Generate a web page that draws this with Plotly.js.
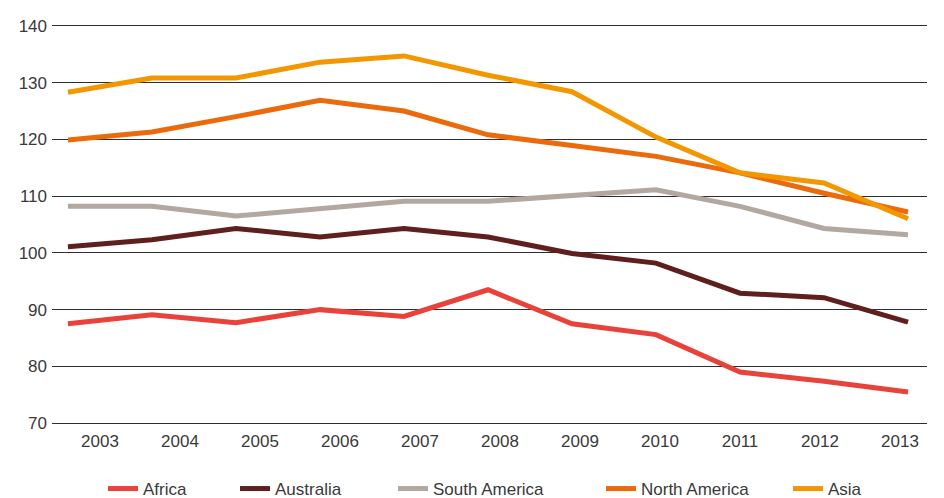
<!DOCTYPE html>
<html>
<head>
<meta charset="utf-8">
<script src="https://cdn.plot.ly/plotly-3.0.1.min.js"></script>
<style>html,body{margin:0;padding:0;background:#fff;}#chart{width:944px;height:498px;}</style>
</head>
<body>
<div id="chart"></div>
<script>
const years = [2003, 2004, 2005, 2006, 2007, 2008, 2009, 2010, 2011, 2012, 2013];
const yearLabels = ['2003', '2004', '2005', '2006', '2007', '2008', '2009', '2010', '2011', '2012', '2013'];
const africa = [87.5, 89.1, 87.7, 90.0, 88.8, 93.5, 87.5, 85.6, 79.0, 77.4, 75.5];
const australia = [101.1, 102.3, 104.3, 102.8, 104.3, 102.8, 99.9, 98.2, 92.9, 92.1, 87.8];
const southAmerica = [108.2, 108.2, 106.5, 107.9, 109.1, 109.1, 110.0, 111.1, 108.2, 104.3, 103.2];
const northAmerica = [119.9, 121.3, 124.0, 126.9, 125.0, 120.8, 118.9, 117.0, 114.1, 110.5, 107.2];
const asia = [128.3, 130.8, 130.8, 133.6, 134.7, 131.3, 128.4, 120.4, 114.1, 112.3, 106.0];
const yTicks = [70, 80, 90, 100, 110, 120, 130, 140];

const seriesNames = ['Africa', 'Australia', 'South America', 'North America', 'Asia'];
const seriesValues = [africa, australia, southAmerica, northAmerica, asia];
const colors = ['#E8423A', '#5F1F1D', '#B2A89F', '#EB6A0B', '#F39700'];
const legendX = [103, 235, 393, 601, 788];

// label positions sit slightly to the right of the data points in the original chart
const labelOffset = 32 / 84;
const labelStep = 80 / 84;
const labelVals = years.map((y, i) => years[0] + labelOffset + i * labelStep);

const font = {family: 'Liberation Sans, Arial, sans-serif', size: 17, color: '#3a3a3a'};

const traces = seriesNames.map((name, i) => ({
  type: 'scatter',
  mode: 'lines',
  name: name,
  x: years,
  y: seriesValues[i],
  line: {color: colors[i], width: 5},
  legend: i === 0 ? 'legend' : 'legend' + (i + 1),
  hoverinfo: 'skip'
}));

const layout = {
  width: 944,
  height: 498,
  margin: {l: 52, r: 17, t: 23, b: 72},
  paper_bgcolor: '#ffffff',
  plot_bgcolor: '#ffffff',
  font: font,
  showlegend: true,
  xaxis: {
    range: [2002.81, 2013.226],
    tickvals: labelVals,
    ticktext: yearLabels,
    showgrid: false,
    zeroline: false,
    showline: false,
    ticks: '',
    ticklabelstandoff: 3,
    tickfont: font,
    fixedrange: true
  },
  yaxis: {
    range: [69.5, 140.5],
    tickvals: yTicks,
    showgrid: true,
    gridcolor: '#2e2e2e',
    gridwidth: 1,
    zeroline: false,
    showline: false,
    ticks: '',
    ticklabelstandoff: 4,
    tickfont: font,
    fixedrange: true
  }
};

seriesNames.forEach((n, i) => {
  const key = i === 0 ? 'legend' : 'legend' + (i + 1);
  layout[key] = {
    xref: 'container', yref: 'container',
    x: legendX[i] / 944, y: 1 - 489 / 498,
    xanchor: 'left', yanchor: 'middle',
    orientation: 'h',
    font: font,
    bgcolor: 'rgba(0,0,0,0)',
    borderwidth: 0
  };
});

Plotly.newPlot('chart', traces, layout, {displayModeBar: false, staticPlot: true});
</script>
</body>
</html>
